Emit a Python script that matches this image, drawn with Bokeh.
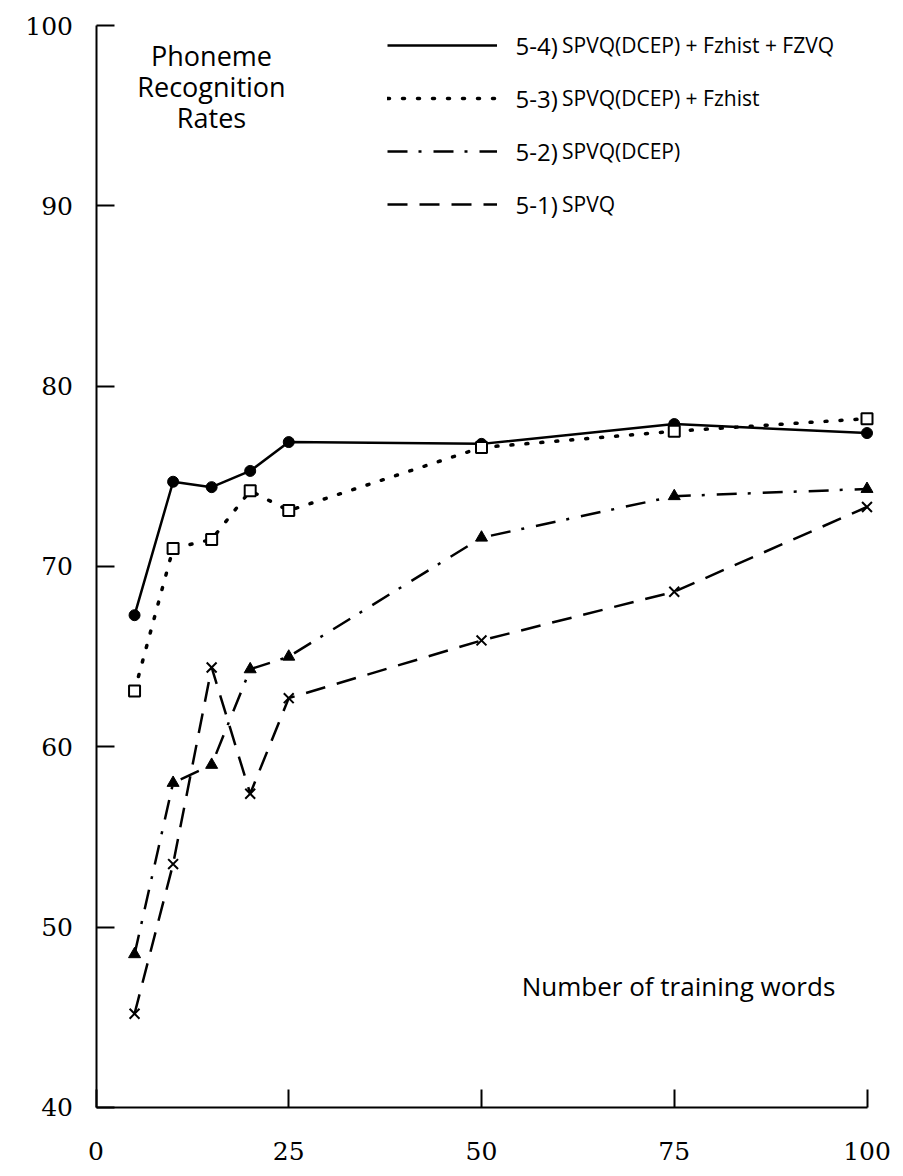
from bokeh.plotting import figure
from bokeh.models import Range1d, FixedTicker, Legend, LegendItem, Label, LinearAxis
from bokeh.embed import file_html
from bokeh.resources import INLINE

# ---- data ----
training_words = [5, 10, 15, 20, 25, 50, 75, 100]
rate_5_4 = [67.3, 74.7, 74.4, 75.3, 76.9, 76.8, 77.9, 77.4]
rate_5_3 = [63.1, 71.0, 71.5, 74.2, 73.1, 76.6, 77.5, 78.2]
rate_5_2 = [48.5, 58.0, 59.0, 64.3, 65.0, 71.6, 73.9, 74.3]
rate_5_1 = [45.2, 53.5, 64.4, 57.4, 62.7, 65.9, 68.6, 73.3]
series_ids = ["5-4)", "5-3)", "5-2)", "5-1)"]
series_names = [
    "SPVQ(DCEP) + Fzhist + FZVQ",
    "SPVQ(DCEP) + Fzhist",
    "SPVQ(DCEP)",
    "SPVQ",
]
x_ticks = [0, 25, 50, 75, 100]
y_ticks = [40, 50, 60, 70, 80, 90, 100]

SANS = "Open Sans"
SERIF = "DejaVu Serif"

W, H = 895, 1168
X0_PX, PX_PER_X = 95.5, 7.71       # where x=0 sits, px per word
Y100_PX, PX_PER_Y = 25.0, 18.0333  # where y=100 sits, px per %

x_lo = -X0_PX / PX_PER_X
x_hi = (W - X0_PX) / PX_PER_X
y_hi = 100 + Y100_PX / PX_PER_Y
y_lo = 100 - (H - Y100_PX) / PX_PER_Y


def dx(px):
    return (px - X0_PX) / PX_PER_X


def dy(py):
    return 100 - (py - Y100_PX) / PX_PER_Y


p = figure(
    width=W, height=H,
    x_range=Range1d(x_lo, x_hi), y_range=Range1d(y_lo, y_hi),
    output_backend="svg", toolbar_location=None,
    x_axis_type=None, y_axis_type=None,
    min_border=0, min_border_left=0, min_border_right=0,
    min_border_top=0, min_border_bottom=0,
)
p.grid.visible = False
p.outline_line_color = None
p.background_fill_color = "white"
p.border_fill_color = "white"

xaxis = LinearAxis(ticker=FixedTicker(ticks=x_ticks), fixed_location=40,
                   bounds=(0, 100))
yaxis = LinearAxis(ticker=FixedTicker(ticks=y_ticks), fixed_location=0,
                   bounds=(40, 100))
for ax in (xaxis, yaxis):
    ax.axis_line_width = 2
    ax.axis_line_color = "black"
    ax.major_tick_in = 18
    ax.major_tick_out = 0
    ax.major_tick_line_width = 2
    ax.major_tick_line_color = "black"
    ax.minor_tick_line_color = None
    ax.major_label_text_font = SERIF
    ax.major_label_text_font_size = "25px"
    ax.major_label_text_color = "black"
xaxis.major_label_standoff = 35
yaxis.major_label_standoff = 23
p.add_layout(xaxis, "below")
p.add_layout(yaxis, "left")

# lines
r4 = p.line(training_words, rate_5_4, line_color="black", line_width=2.5)
r3 = p.line(training_words, rate_5_3, line_color="black", line_width=3.5,
            line_dash="2 13", line_cap="round")
r2 = p.line(training_words, rate_5_2, line_color="black", line_width=2.5,
            line_dash="20 11 3 12")
r1 = p.line(training_words, rate_5_1, line_color="black", line_width=2.5,
            line_dash="20 12")

# markers
p.scatter(training_words, rate_5_4, marker="circle", size=11, color="black")
p.scatter(training_words, rate_5_3, marker="square", size=11,
          fill_color="white", line_color="black", line_width=2)
p.scatter(training_words, rate_5_2, marker="triangle", size=12, color="black")
p.scatter(training_words, rate_5_1, marker="x", size=14,
          line_color="black", line_width=2)

# legend (names via Legend, the larger "5-x)" ids as labels)
ROW_H, ROW_GAP = 30, 23
legend_h = 4 * ROW_H + 3 * ROW_GAP
legend_top_px = 45 - ROW_H / 2
legend = Legend(
    items=[LegendItem(label=lab, renderers=[r]) for lab, r in
           zip(series_names, [r4, r3, r2, r1])],
    location=(387, H - legend_top_px - legend_h),
    glyph_width=110, glyph_height=ROW_H, label_height=ROW_H,
    spacing=ROW_GAP, padding=0, margin=0, label_standoff=65,
    border_line_color=None, background_fill_alpha=0,
    label_text_font=SANS, label_text_font_size="21px",
    label_text_color="black",
)
p.add_layout(legend)
for i, sid in enumerate(series_ids):
    row_center = 45 + i * (ROW_H + ROW_GAP)
    p.add_layout(Label(x=dx(515), y=dy(row_center), text=sid,
                       text_align="left", text_baseline="middle",
                       text_font=SANS, text_font_size="24px",
                       text_color="black"))

for txt, py in (("Phoneme", 55), ("Recognition", 86), ("Rates", 117)):
    p.add_layout(Label(x=dx(211), y=dy(py), text=txt, text_align="center",
                       text_baseline="middle", text_font=SANS,
                       text_font_size="27px", text_color="black"))

p.add_layout(Label(x=dx(678), y=dy(985), text="Number of training words",
                   text_align="center", text_baseline="middle",
                   text_font=SANS, text_font_size="26px", text_color="black"))

open("out.html", "w").write(file_html(p, INLINE))
